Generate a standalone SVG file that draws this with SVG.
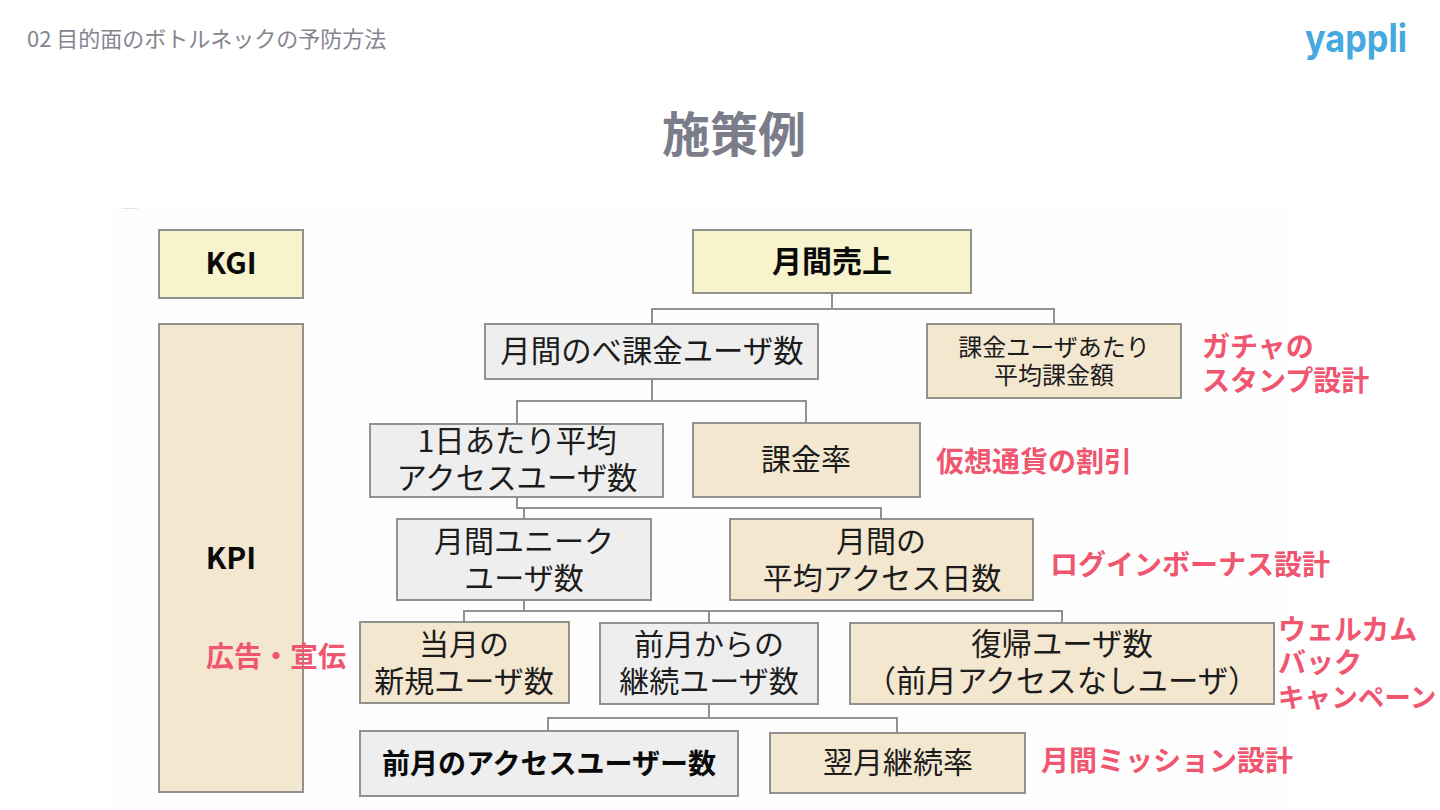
<svg xmlns="http://www.w3.org/2000/svg" width="1440" height="810" viewBox="0 0 1440 810">
<style>
text{font-family:"Noto Sans CJK JP","Noto Sans",sans-serif;text-anchor:middle}
.n{stroke:#92928c;stroke-width:2}
.g{fill:#eeeeee}.t{fill:#f4e7d0}.y{fill:#f7f3cd}
.l{font-size:30.4px;fill:#1c1c1c}
.m{font-size:30px;fill:#1c1c1c}
.s{font-size:24px;fill:#1c1c1c}
.b{font-size:30px;font-weight:700;fill:#0a0a0a}
.r{font-size:28px;font-weight:700;fill:#f0566f;text-anchor:start}
.c{fill:none;stroke:#92928c;stroke-width:2}
</style>
<rect width="1440" height="810" fill="#fff"/>
<rect x="112" y="208" width="1178" height="602" fill="#fdfefd"/>
<path d="M122 208.500H138" stroke="#e4e4e4"/>
<text x="27" y="47" style="text-anchor:start;font-size:22px;fill:#85858f">02 目的面のボトルネックの予防方法</text>
<text id="logo" x="1305" y="52" textLength="102" lengthAdjust="spacingAndGlyphs" style="text-anchor:start;font-family:'Inter',sans-serif;font-size:39px;font-weight:700;fill:#45a8df">yappli</text>
<text x="734" y="152" style="font-size:48px;font-weight:700;fill:#7c7d8a">施策例</text>
<g id="connectors">
<path class="c" d="M832 293V309M652 324V309H1054V324"/>
<path class="c" d="M652 380V401M517 423V401H806V423"/>
<path class="c" d="M517 497V508H881V519M524 508V519"/>
<path class="c" d="M524 600V611M464 622V611H1062V623M709 611V623"/>
<path class="c" d="M709 704V718M548 731V718H897V733"/>
</g>
<g id="kgi"><rect class="n y" x="159" y="230" width="144" height="68"/><text class="b" x="231" y="274">KGI</text></g>
<g id="kpi"><rect class="n t" x="159" y="324" width="144" height="468"/><text class="b" x="231" y="569">KPI</text></g>
<g id="sales"><rect class="n y" x="693" y="230" width="278" height="63"/><text class="b" x="832" y="272">月間売上</text></g>
<g id="total-users"><rect class="n g" x="485" y="324" width="333" height="55"/><text class="l" x="652" y="362">月間のべ課金ユーザ数</text></g>
<g id="arppu"><rect class="n t" x="927" y="324" width="254" height="74"/><text class="s"><tspan x="1054" y="356">課金ユーザあたり</tspan><tspan x="1054" y="384">平均課金額</tspan></text></g>
<g id="dau"><rect class="n g" x="370" y="424" width="293" height="73"/><text class="l"><tspan x="517" y="452">1日あたり平均</tspan><tspan x="517" y="489">アクセスユーザ数</tspan></text></g>
<g id="rate"><rect class="n t" x="693" y="423" width="227" height="74"/><text class="m" x="806" y="470">課金率</text></g>
<g id="mau"><rect class="n g" x="397" y="519" width="254" height="81"/><text class="m"><tspan x="524" y="552">月間ユニーク</tspan><tspan x="524" y="589">ユーザ数</tspan></text></g>
<g id="days"><rect class="n t" x="730" y="519" width="303" height="81"/><text class="m"><tspan x="881" y="552">月間の</tspan><tspan x="882" y="589">平均アクセス日数</tspan></text></g>
<g id="new"><rect class="n t" x="360" y="622" width="209" height="81"/><text class="m"><tspan x="464" y="655">当月の</tspan><tspan x="464" y="692">新規ユーザ数</tspan></text></g>
<g id="cont"><rect class="n g" x="600" y="623" width="218" height="81"/><text class="m"><tspan x="709" y="655">前月からの</tspan><tspan x="709" y="692">継続ユーザ数</tspan></text></g>
<g id="back"><rect class="n t" x="850" y="623" width="424" height="81"/><text class="l"><tspan x="1062" y="655">復帰ユーザ数</tspan><tspan x="1062" y="692">（前月アクセスなしユーザ）</tspan></text></g>
<g id="prev"><rect class="n g" x="360" y="731" width="378" height="65"/><text x="549" y="774" style="font-size:28px;font-weight:700;fill:#0a0a0a">前月のアクセスユーザー数</text></g>
<g id="next"><rect class="n t" x="770" y="733" width="255" height="60"/><text class="m" x="898" y="773">翌月継続率</text></g>
<text class="r"><tspan x="1202" y="357">ガチャの</tspan><tspan x="1202" y="391">スタンプ設計</tspan></text>
<text class="r" x="936" y="472">仮想通貨の割引</text>
<text class="r" x="1050" y="575">ログインボーナス設計</text>
<text class="r"><tspan x="1278" y="640">ウェルカム</tspan><tspan x="1278" y="673">バック</tspan><tspan x="1278" y="707" style="font-size:26.600px">キャンペーン</tspan></text>
<text class="r" x="206" y="667">広告・宣伝</text>
<text class="r" x="1041" y="771">月間ミッション設計</text>
</svg>
